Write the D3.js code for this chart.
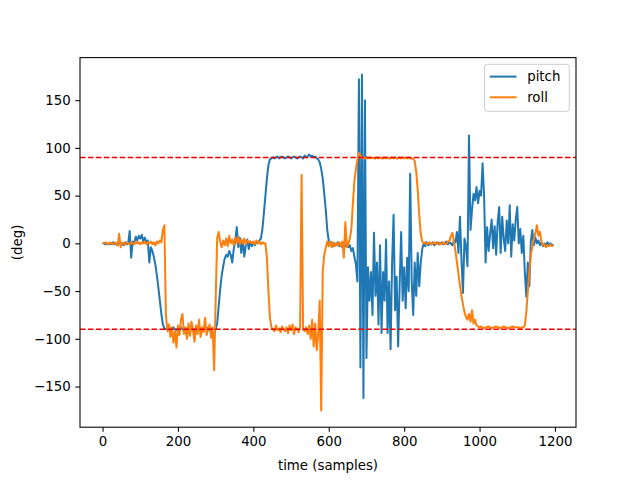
<!DOCTYPE html>
<html>
<head>
<meta charset="utf-8">
<script src="https://cdn.jsdelivr.net/npm/d3@7"></script>
<style>
  body { margin: 0; background: #fff; }
  svg text { font-family: "DejaVu Sans", sans-serif; font-size: 13.33px; fill: #000; }
</style>
</head>
<body>
<script>
// samples are read every 4th step off the plot
const step = 4

const pitch = [
  0, 0, -1, 0, -1, 0, -1, 1, -1, 0, -2, 1, -1, 0, -2, 1, -1, 0, 13, -15, 2, -1, 7, 3, 8,
  5, 9, 2, 6, 1, 3, -20, -4, -8, -14, -22, -33, -46, -60, -74, -85, -89, -90, -88, -91, -89, -92, -88, -90, -91,
  -89, -91, -88, -90, -92, -89, -90, -88, -91, -90, -89, -92, -90, -88, -91, -90, -89, -91, -90, -88, -90, -91, -89, -90, -90,
  -90, -84, -66, -48, -34, -24, -16, -12, -14, -8, -12, -20, -6, 2, 17, -4, 6, -10, 3, -14, -2, 4, -6, 2, -3,
  1, -2, 2, 0, 3, 5, 15, 32, 50, 68, 82, 88, 89, 90, 89, 90, 91, 89, 90, 91, 90, 89, 90, 91, 90,
  89, 90, 91, 90, 89, 90, 91, 90, 89, 92, 90, 91, 93, 91, 92, 90, 91, 89, 88, 85, 78, 68, 52, 36, 14,
  3, -2, 1, -3, 0, -2, 1, -3, -1, -4, 0, -3, -1, -4, -2, -8, -5, -14, -22, -40, 172, -130, 177, -162, 150,
  -120, -25, -60, -30, -75, 11, -55, -20, -85, -2, -94, -30, -60, 4, -94, -40, -111, -20, 30, -70, -35, -108, -45, 12, -60,
  -25, -68, -15, -50, 73, -40, -75, -20, -55, -10, -45, -20, -6, 0, -3, 1, -2, 0, -1, 1, -2, 0, 1, -1, 0,
  1, -1, 0, 2, -1, 1, 0, -2, 3, 1, 12, -10, 28, -17, -52, 5, -3, -24, 113, 14, 35, 52, 45, 59, 42,
  55, 50, 84, 50, -20, 17, -8, 10, 25, -5, 18, -12, 22, 38, -10, 28, 5, -8, 24, 0, 40, -14, 20, 3, 25,
  38, 0, 15, -10, 8, -30, -56, -20, -45, 2, 14, -2, 6, 0, 3, -2, 1, -3, 0, -2, 1, -1, 0, -2, -1
]

const roll = [
  0, 0, 1, 0, -1, 1, 0, -1, 1, 0, -2, 10, -4, 1, 0, -1, 1, 0, -1, 1, 0, -1, 2, 0, 1,
  -1, 1, 0, 2, -1, 1, 0, 2, -1, 1, -2, 2, 0, 3, 1, 14, 19, -75, -92, -85, -98, -88, -104, -92, -109,
  -86, -96, -80, -74, -95, -88, -100, -84, -97, -82, -92, -103, -86, -95, -80, -98, -88, -93, -78, -96, -90, -85, -99, -88, -133,
  -60, 5, 12, 2, -4, 3, -2, 5, -3, 8, 0, 4, -2, 6, 1, 7, -1, 4, 0, 5, -1, 3, 1, 2, 0,
  2, -1, 3, 0, 2, -1, 1, 0, 0, -15, -50, -78, -88, -90, -92, -86, -91, -89, -93, -87, -90, -92, -88, -94, -86,
  -91, -85, -95, -88, -90, -93, -87, 72, -90, -92, -88, -95, -86, -100, -80, -108, -84, -112, -95, -60, -175, -30, -12, -5, 2,
  -3, 2, -4, 1, -3, 0, -2, 1, -3, 2, -15, 22, -4, 0, 5, 15, 42, 65, 78, 88, 95, 92, 89, 90, 89,
  90, 89, 90, 89, 90, 89, 89, 90, 89, 90, 89, 89, 90, 89, 90, 89, 89, 90, 89, 90, 89, 89, 90, 89, 90,
  89, 90, 89, 90, 89, 89, 89, 86, 75, 56, 30, 10, 2, 0, 1, -1, 0, 1, -1, 0, 1, -1, 0, 1, -1,
  0, 1, -1, 0, 2, 2, 8, 11, 2, -8, -20, -32, -44, -55, -64, -72, -77, -80, -74, -82, -70, -84, -80, -86, -87,
  -88, -87, -88, -89, -88, -88, -87, -88, -89, -88, -88, -87, -88, -88, -89, -88, -87, -88, -88, -89, -88, -88, -87, -88, -88,
  -88, -88, -89, -88, -88, -86, -72, -50, -30, -12, -3, 5, 10, 19, 8, 12, 2, -2, -1, -4, -2, -3, -1, -3, -2
]

const limits = [90, -90]
const xTicks = [0, 200, 400, 600, 800, 1000, 1200]
const yTicks = [-150, -100, -50, 0, 50, 100, 150]
const seriesNames = ['pitch', 'roll']
const seriesColors = ['#1f77b4', '#ff7f0e']

var width = 640
var height = 480
var margin = {left: 80, right: 64, top: 57.6, bottom: 52.8}
var w = width - margin.left - margin.right
var h = height - margin.top - margin.bottom

var nSamples = (pitch.length - 1) * step
var x = d3.scaleLinear()
			.domain([-0.05 * nSamples, nSamples * 1.05])
			.range([0, w])

var allVals = pitch.concat(roll)
var yMin = d3.min(allVals), yMax = d3.max(allVals)
var pad = (yMax - yMin) * 0.05
var y = d3.scaleLinear()
			.domain([yMin - pad, yMax + pad])
			.range([h, 0])

var svg = d3.select('body').append('svg').attr('width', width).attr('height', height)

var chartGroup = svg.append('g')
			.attr('transform', 'translate(' + margin.left + ',' + margin.top + ')')

chartGroup.append('clipPath').attr('id', 'clip')
	.append('rect').attr('width', w).attr('height', h)

var line = d3.line()
			.x((d, i) => { return x(i * step); })
			.y((d) => { return y(d); })

var plot = chartGroup.append('g').attr('clip-path', 'url(#clip)')

;[pitch, roll].forEach((s, k) => {
	plot.append('path').attr('d', line(s))
		.attr('fill', 'none')
		.attr('stroke', seriesColors[k])
		.attr('stroke-width', 2)
		.attr('stroke-linejoin', 'round')
})

plot.selectAll('.limit').data(limits).enter().append('line')
	.attr('class', 'limit')
	.attr('x1', 0).attr('x2', w)
	.attr('y1', (d) => y(d)).attr('y2', (d) => y(d))
	.attr('stroke', '#ee0000')
	.attr('stroke-width', 1.6)
	.attr('stroke-dasharray', '5.55,2.4')

var xAxis = d3.axisBottom(x).tickValues(xTicks).tickSize(4.67).tickPadding(4.67).tickFormat(d3.format('d'))
var yAxis = d3.axisLeft(y).tickValues(yTicks).tickSize(4.67).tickPadding(4.67).tickFormat(d3.format('d'))

var gx = chartGroup.append('g')
			.attr('transform', 'translate(0,' + h + ')')
			.call(xAxis)
var gy = chartGroup.append('g').call(yAxis)

;[gx, gy].forEach((g) => {
	g.select('.domain').remove()
	g.selectAll('line').attr('stroke', '#000').attr('stroke-width', 1.07)
	g.selectAll('text').attr('font-family', 'DejaVu Sans').attr('font-size', 13.33).attr('fill', '#000')
})

chartGroup.append('rect')
	.attr('width', w).attr('height', h)
	.attr('fill', 'none').attr('stroke', '#000').attr('stroke-width', 1.07)

svg.append('text')
	.attr('x', margin.left + w / 2).attr('y', 470)
	.attr('text-anchor', 'middle')
	.text('time (samples)')

svg.append('text')
	.attr('transform', 'translate(22,' + (margin.top + h / 2) + ') rotate(-90)')
	.attr('text-anchor', 'middle')
	.text('(deg)')

// legend, upper right
var legend = chartGroup.append('g').attr('transform', 'translate(' + (w - 91.5) + ',6.7)')
legend.append('rect')
	.attr('width', 84.8).attr('height', 47)
	.attr('rx', 3).attr('ry', 3)
	.attr('fill', '#fff').attr('fill-opacity', 0.8)
	.attr('stroke', '#cccccc').attr('stroke-width', 1)

seriesNames.forEach((name, k) => {
	var row = legend.append('g').attr('transform', 'translate(0,' + (12.3 + k * 20.7) + ')')
	row.append('line')
		.attr('x1', 5.3).attr('x2', 32)
		.attr('stroke', seriesColors[k]).attr('stroke-width', 2)
	row.append('text')
		.attr('x', 42.7).attr('y', 4.7)
		.text(name)
})
</script>
</body>
</html>
